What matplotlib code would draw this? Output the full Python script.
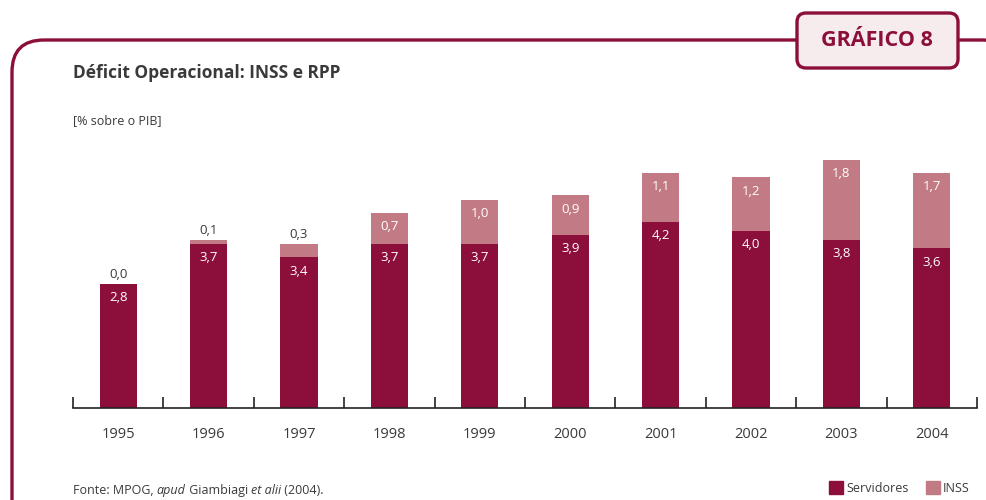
import matplotlib
matplotlib.use('Agg')
import numpy as np
from matplotlib import pyplot as plt
from matplotlib.patches import FancyBboxPatch, Patch

plt.rcParams['font.family'] = ['Liberation Sans Narrow', 'Open Sans', 'DejaVu Sans']

years = ['1995', '1996', '1997', '1998', '1999', '2000', '2001', '2002', '2003', '2004']
servidores = [2.8, 3.7, 3.4, 3.7, 3.7, 3.9, 4.2, 4.0, 3.8, 3.6]
inss = [0.0, 0.1, 0.3, 0.7, 1.0, 0.9, 1.1, 1.2, 1.8, 1.7]

dark = '#8c0e3a'
light = '#c27b84'
txt = '#3a3a3a'

fig = plt.figure(figsize=(9.86, 5), dpi=100)

# background layer in pixel coordinates for frame and header box
bg = fig.add_axes([0, 0, 1, 1])
bg.set_xlim(0, 986)
bg.set_ylim(500, 0)
bg.axis('off')

# frame runs off the right and bottom edges
frame = FancyBboxPatch((12, 40), 1002, 500, boxstyle='round,pad=0,rounding_size=32',
                       fc='none', ec=dark, lw=2.4, clip_on=True)
bg.add_patch(frame)
box = FancyBboxPatch((797, 13), 161, 55, boxstyle='round,pad=0,rounding_size=9',
                     fc='#f7eced', ec=dark, lw=2.4, zorder=3)
bg.add_patch(box)
bg.text(877, 40, 'GRÁFICO 8', color=dark, fontsize=15.5, fontweight='bold',
        ha='center', va='center', zorder=4)

bg.text(73, 73, 'Déficit Operacional: INSS e RPP', color=txt, fontsize=12.5,
        fontweight='bold', va='center')
bg.text(73, 121, '[% sobre o PIB]', color=txt, fontsize=9, va='center')

# footer with italic parts, placed one after another on one baseline
parts = [('Fonte: MPOG, ', 'normal'), ('apud', 'italic'), (' Giambiagi ', 'normal'),
         ('et alii', 'italic'), (' (2004).', 'normal')]
renderer = fig.canvas.get_renderer()
xpos = 73
for s, st in parts:
    t = bg.text(xpos, 494, s, color=txt, fontsize=9, fontstyle=st, va='baseline')
    ext = t.get_window_extent(renderer)
    xpos += ext.width

# main chart
ax = fig.add_axes([73 / 986, 1 - 408 / 500, (977 - 73) / 986, 266 / 500])
x = np.arange(len(years))
w = 0.41
ax.bar(x, servidores, w, color=dark, label='Servidores')
ax.bar(x, inss, w, bottom=servidores, color=light, label='INSS')

for i in range(len(years)):
    ax.annotate(f'{servidores[i]:.1f}'.replace('.', ','), (x[i], servidores[i]),
                xytext=(0, -10), textcoords='offset points', ha='center', va='center',
                color='white', fontsize=9.5)
    top = servidores[i] + inss[i]
    lab = f'{inss[i]:.1f}'.replace('.', ',')
    if inss[i] >= 0.6:
        ax.annotate(lab, (x[i], top), xytext=(0, -10), textcoords='offset points',
                    ha='center', va='center', color='white', fontsize=9.5)
    else:
        ax.annotate(lab, (x[i], top), xytext=(0, 2), textcoords='offset points',
                    ha='center', va='bottom', color=txt, fontsize=9.5)

ax.set_xlim(-0.5, len(years) - 0.5)
ax.set_ylim(0, 6)
for s in ['top', 'right', 'left']:
    ax.spines[s].set_visible(False)
ax.spines['bottom'].set_color('#222222')
ax.spines['bottom'].set_linewidth(1.2)
ax.set_yticks([])
ax.set_xticks(x)
ax.set_xticklabels(years, fontsize=10.5, color=txt)
ax.tick_params(axis='x', length=0, pad=14)
ax.set_xticks(np.arange(-0.5, len(years)), minor=True)
ax.tick_params(axis='x', which='minor', direction='in', length=8, width=1.2, color='#222222')
ax.patch.set_alpha(0)

fig.legend(handles=[Patch(color=dark, label='Servidores'), Patch(color=light, label='INSS')],
           loc='lower right', bbox_to_anchor=(0.995, -0.012), ncol=2, frameon=False,
           handlelength=1.1, handleheight=1.3, handletextpad=0.25, columnspacing=1.4,
           fontsize=9, labelcolor=txt)

fig.savefig('out.png', dpi=100)
